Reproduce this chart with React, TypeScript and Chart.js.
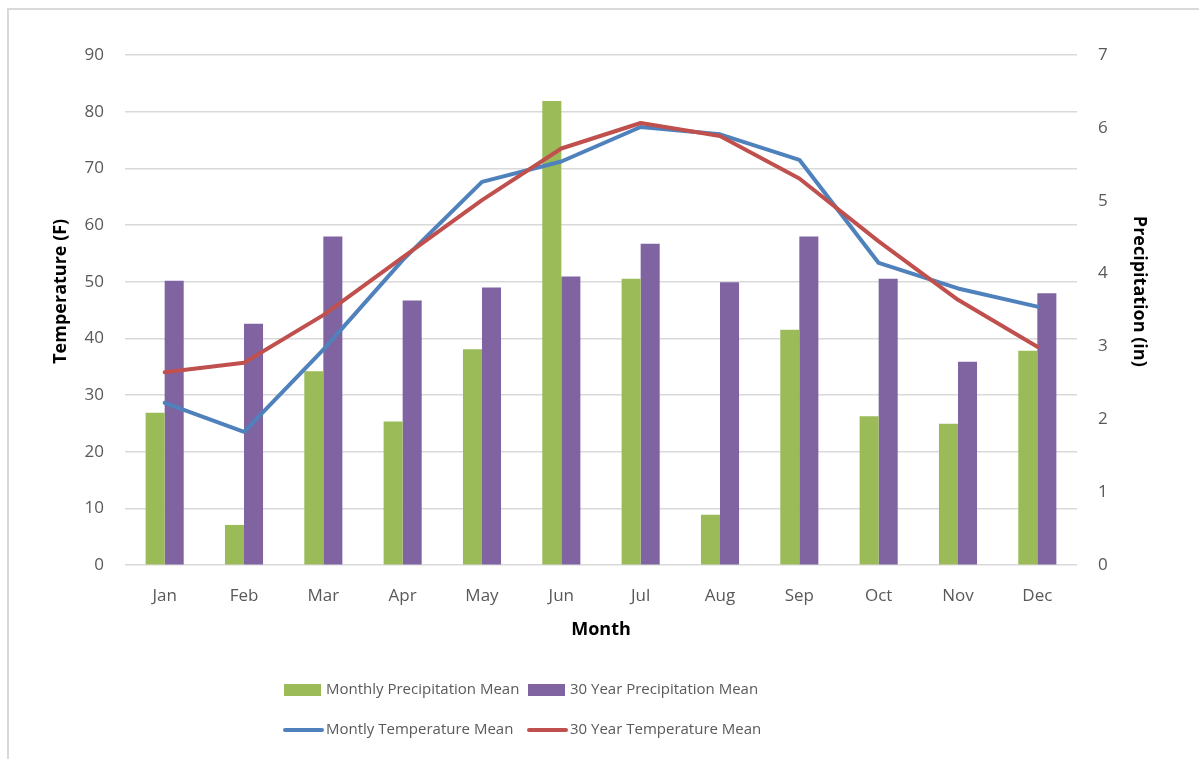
import { useEffect, useRef } from 'react';
import { Chart, registerables } from 'chart.js';

Chart.register(...registerables);

const months = ['Jan', 'Feb', 'Mar', 'Apr', 'May', 'Jun', 'Jul', 'Aug', 'Sep', 'Oct', 'Nov', 'Dec'];
const monthlyPrecip = [2.09, 0.55, 2.66, 1.97, 2.96, 6.37, 3.93, 0.69, 3.23, 2.04, 1.94, 2.94];
const normalPrecip = [3.9, 3.31, 4.51, 3.63, 3.81, 3.96, 4.41, 3.88, 4.51, 3.93, 2.79, 3.73];
const monthlyTemp = [28.6, 23.5, 38.0, 53.8, 67.6, 71.2, 77.3, 76.0, 71.5, 53.3, 48.8, 45.6];
const normalTemp = [34.0, 35.7, 44.1, 54.3, 64.4, 73.5, 78.0, 75.7, 68.2, 57.1, 46.8, 38.5];

const FONT = '"Open Sans", "Liberation Sans", sans-serif';
const GREEN = '#9BBB59';
const PURPLE = '#8064A2';
const BLUE = '#4F81BD';
const RED = '#C0504D';
const TICK = '#595959';
const GRID = '#d9d9d9';

const legendItems = [
  { label: 'Monthly Precipitation Mean', color: GREEN, kind: 'box', col: 0, row: 0 },
  { label: '30 Year Precipitation Mean', color: PURPLE, kind: 'box', col: 1, row: 0 },
  { label: 'Montly Temperature Mean', color: BLUE, kind: 'line', col: 0, row: 1 },
  { label: '30 Year Temperature Mean', color: RED, kind: 'line', col: 1, row: 1 },
];

const framePlugin = {
  id: 'frame',
  beforeDraw(chart: any) {
    const { ctx, width, height } = chart;
    ctx.save();
    ctx.fillStyle = '#ffffff';
    ctx.fillRect(0, 0, width, height);
    ctx.strokeStyle = GRID;
    ctx.lineWidth = 2;
    ctx.beginPath();
    ctx.moveTo(8, height);
    ctx.lineTo(8, 9);
    ctx.lineTo(width, 9);
    ctx.stroke();
    ctx.restore();
  },
};

const legendPlugin = {
  id: 'customLegend',
  afterDraw(chart: any) {
    const { ctx } = chart;
    const colX = [284, 528];
    const rowY = [690, 730];
    ctx.save();
    ctx.font = `15px ${FONT}`;
    ctx.textBaseline = 'middle';
    ctx.textAlign = 'left';
    legendItems.forEach((it) => {
      const x = colX[it.col];
      const y = rowY[it.row];
      if (it.kind === 'box') {
        ctx.fillStyle = it.color;
        ctx.fillRect(x, y - 6, 37, 12);
      } else {
        ctx.strokeStyle = it.color;
        ctx.lineWidth = 4;
        ctx.lineCap = 'round';
        ctx.beginPath();
        ctx.moveTo(x + 1, y);
        ctx.lineTo(x + 38, y);
        ctx.stroke();
      }
      ctx.fillStyle = TICK;
      ctx.fillText(it.label, x + 42, y);
    });
    ctx.restore();
  },
};

export default function App() {
  const ref = useRef<HTMLCanvasElement>(null);
  useEffect(() => {
    document.body.style.margin = '0';
    const chart = new Chart(ref.current!, {
      type: 'bar',
      data: {
        labels: months,
        datasets: [
          {
            type: 'bar',
            label: legendItems[0].label,
            data: monthlyPrecip,
            backgroundColor: GREEN,
            yAxisID: 'yP',
            order: 3,
            categoryPercentage: 0.48,
            barPercentage: 1,
          },
          {
            type: 'bar',
            label: legendItems[1].label,
            data: normalPrecip,
            backgroundColor: PURPLE,
            yAxisID: 'yP',
            order: 3,
            categoryPercentage: 0.48,
            barPercentage: 1,
          },
          {
            type: 'line',
            label: legendItems[2].label,
            data: monthlyTemp,
            borderColor: BLUE,
            backgroundColor: BLUE,
            borderWidth: 4,
            pointRadius: 0,
            tension: 0,
            borderJoinStyle: 'round',
            borderCapStyle: 'round',
            yAxisID: 'yT',
            order: 1,
          },
          {
            type: 'line',
            label: legendItems[3].label,
            data: normalTemp,
            borderColor: RED,
            backgroundColor: RED,
            borderWidth: 4,
            pointRadius: 0,
            tension: 0,
            borderJoinStyle: 'round',
            borderCapStyle: 'round',
            yAxisID: 'yT',
            order: 0,
          },
        ] as any,
      },
      options: {
        animation: false,
        responsive: true,
        maintainAspectRatio: false,
        layout: { padding: { left: 20, right: 17, top: 55, bottom: 114 } },
        plugins: { legend: { display: false }, tooltip: { enabled: false } },
        scales: {
          x: {
            grid: { display: false },
            border: { display: false },
            ticks: { color: TICK, font: { family: FONT, size: 17 }, padding: 13 },
            title: {
              display: true,
              text: 'Month',
              color: '#000',
              font: { family: FONT, size: 18, weight: 'bold' },
              padding: { top: 0, bottom: 4 },
            },
            afterFit(s: any) {
              s.height = 80;
            },
          },
          yT: {
            type: 'linear',
            position: 'left',
            min: 0,
            max: 90,
            ticks: { stepSize: 10, color: TICK, font: { family: FONT, size: 17 }, padding: 21 },
            grid: { color: GRID, lineWidth: 1.5, drawTicks: false },
            border: { display: false },
            title: {
              display: true,
              text: '        Temperature (F)',
              color: '#000',
              font: { family: FONT, size: 18, weight: 'bold' },
              padding: { top: 30, bottom: 0 },
            },
            afterFit(s: any) {
              s.width = 105;
            },
          },
          yP: {
            type: 'linear',
            position: 'right',
            min: 0,
            max: 7,
            ticks: { stepSize: 1, color: TICK, font: { family: FONT, size: 17 }, padding: 21 },
            grid: { drawOnChartArea: false, drawTicks: false },
            border: { display: false },
            title: {
              display: true,
              text: 'Precipitation (in)        ',
              color: '#000',
              font: { family: FONT, size: 18, weight: 'bold' },
              padding: { top: 32, bottom: 0 },
            },
            afterFit(s: any) {
              s.width = 105;
            },
          },
        },
      } as any,
      plugins: [framePlugin, legendPlugin],
    });
    return () => chart.destroy();
  }, []);
  return (
    <div style={{ position: 'absolute', left: 0, top: 0, width: 1199, height: 759 }}>
      <canvas ref={ref} />
    </div>
  );
}
